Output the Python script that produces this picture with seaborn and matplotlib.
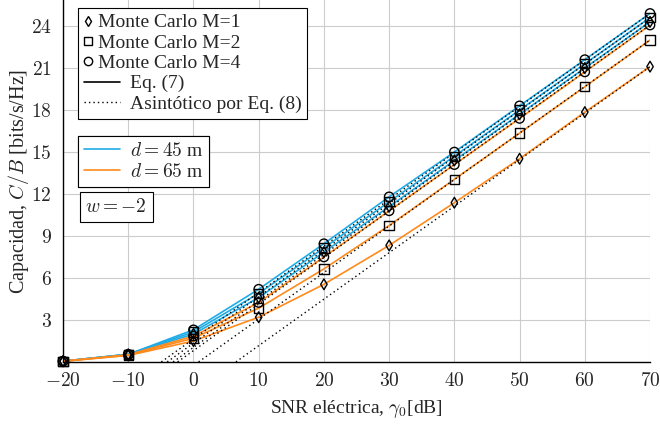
import pandas as pd
import matplotlib.pyplot as plt
import seaborn as sns
from matplotlib.lines import Line2D

# SNR axis [dB]
snr_db = [-20, -10, 0, 10, 20, 30, 40, 50, 60, 70]

# capacity C/B [bits/s/Hz], Eq. (7) / Monte Carlo, d = 45 m
cap_d45_m1 = [0.06, 0.55, 2.00, 4.60, 7.85, 11.10, 14.40, 17.70, 21.00, 24.30]
cap_d45_m2 = [0.06, 0.55, 2.15, 4.90, 8.15, 11.45, 14.70, 18.00, 21.30, 24.60]
cap_d45_m4 = [0.06, 0.55, 2.30, 5.20, 8.45, 11.80, 15.00, 18.30, 21.60, 24.90]

# d = 65 m
cap_d65_m1 = [0.05, 0.47, 1.50, 3.20, 5.55, 8.33, 11.38, 14.52, 17.85, 21.10]
cap_d65_m2 = [0.05, 0.50, 1.70, 3.85, 6.65, 9.75, 13.05, 16.35, 19.66, 23.00]
cap_d65_m4 = [0.06, 0.52, 1.85, 4.25, 7.50, 10.80, 14.10, 17.40, 20.72, 24.07]

# asymptotic lines, Eq. (8): values at both ends of the SNR range
asym_snr = [-20, 70]
asym_d45_m1 = [-5.60, 24.30]
asym_d45_m2 = [-5.30, 24.60]
asym_d45_m4 = [-5.00, 24.90]
asym_d65_m1 = [-8.80, 21.10]
asym_d65_m2 = [-6.90, 23.00]
asym_d65_m4 = [-5.83, 24.07]

xticks = [-20, -10, 0, 10, 20, 30, 40, 50, 60, 70]
yticks = [3, 6, 9, 12, 15, 18, 21, 24]

blue = '#1fabe6'
orange = '#ff8a1c'

sns.set_style('white')
plt.rcParams['font.family'] = ['Liberation Serif', 'DejaVu Serif']
plt.rcParams['mathtext.fontset'] = 'cm'
plt.rcParams['font.size'] = 14

fig = plt.figure(figsize=(6.6, 4.28), dpi=100)
ax = fig.add_axes([0.0955, 0.1542, 0.8894, 0.8458])

curves = [
    (cap_d45_m1, asym_d45_m1, blue, 'd'),
    (cap_d45_m2, asym_d45_m2, blue, 's'),
    (cap_d45_m4, asym_d45_m4, blue, 'o'),
    (cap_d65_m1, asym_d65_m1, orange, 'd'),
    (cap_d65_m2, asym_d65_m2, orange, 's'),
    (cap_d65_m4, asym_d65_m4, orange, 'o'),
]
sizes = {'d': 30, 's': 45, 'o': 45}

for cap, asym, color, marker in curves:
    sns.lineplot(x=snr_db, y=cap, color=color, linewidth=1.2, ax=ax,
                 legend=False, zorder=2)
for cap, asym, color, marker in curves:
    sns.lineplot(x=asym_snr, y=asym, color='black', linewidth=1.0,
                 linestyle=(0, (1, 2.2)), ax=ax, legend=False, zorder=3)
for cap, asym, color, marker in curves:
    sns.scatterplot(x=snr_db, y=cap, marker=marker, s=sizes[marker],
                    color='black', facecolor='none', edgecolor='black',
                    linewidth=1.0, ax=ax, legend=False, zorder=4, clip_on=False)

ax.set_xlim(-20, 70)
ax.set_ylim(0, 25.86)
ax.set_xticks(xticks)
ax.set_xticklabels([f'${t}$' for t in xticks])
ax.set_yticks(yticks)
ax.set_yticklabels([f'${t}$' for t in yticks])
ax.grid(True, color='#cccccc', linewidth=0.8)
ax.set_axisbelow(True)
for side in ['top', 'right']:
    ax.spines[side].set_visible(False)
for side in ['left', 'bottom']:
    ax.spines[side].set_color('black')
    ax.spines[side].set_linewidth(1.0)
ax.tick_params(direction='in', length=3, width=0.8, labelsize=14)
ax.tick_params(axis='x', pad=7)
ax.tick_params(axis='y', pad=8)

ax.set_xlabel(r'SNR eléctrica, $\gamma_0$[dB]', fontsize=14, labelpad=6)
ax.set_ylabel(r'Capacidad, $C/B$ [bits/s/Hz]', fontsize=14.5, labelpad=0)

leg_kw = dict(loc='upper left', frameon=True, fancybox=False, framealpha=1,
              edgecolor='black', borderaxespad=0, fontsize=14,
              labelspacing=0.14, handletextpad=0.5, borderpad=0.3,
              handlelength=1.85)

h1 = [
    Line2D([], [], ls='none', marker='d', ms=5, mfc='none', mec='black', mew=1),
    Line2D([], [], ls='none', marker='s', ms=6, mfc='none', mec='black', mew=1),
    Line2D([], [], ls='none', marker='o', ms=6, mfc='none', mec='black', mew=1),
    Line2D([], [], color='black', lw=1.2),
    Line2D([], [], color='black', lw=1.0, ls=(0, (1, 2.2))),
]
l1 = ['Monte Carlo M=1', 'Monte Carlo M=2', 'Monte Carlo M=4',
      'Eq. (7)', 'Asintótico por Eq. (8)']
leg1 = ax.legend(h1, l1, bbox_to_anchor=(0.026, 0.978), **leg_kw)
leg1.get_frame().set_linewidth(0.8)
# marker-only entries: put the marker at the left with the text right after it
rows = leg1._legend_handle_box.get_children()[0].get_children()
for row in rows[:3]:
    da = row.get_children()[0]
    da.width = 3
    for art in da.get_children():
        art.set_xdata([3] * len(art.get_xdata()))
ax.add_artist(leg1)

h2 = [Line2D([], [], color=blue, lw=1.2), Line2D([], [], color=orange, lw=1.2)]
l2 = [r'$d = 45$ m', r'$d = 65$ m']
leg2 = ax.legend(h2, l2, bbox_to_anchor=(0.026, 0.624), **leg_kw)
leg2.get_frame().set_linewidth(0.8)
ax.add_artist(leg2)

ax.text(0.026 + 0.012, 0.467 - 0.014, r'$w = -2$', transform=ax.transAxes,
        ha='left', va='top', fontsize=14,
        bbox=dict(boxstyle='square,pad=0.3', fc='white', ec='black', lw=0.8))

fig.savefig('out.png', dpi=100)
